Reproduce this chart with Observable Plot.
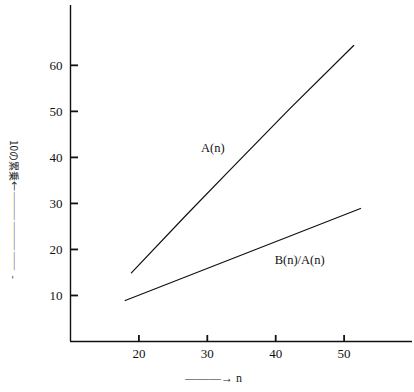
<!DOCTYPE html>
<html><head><meta charset="utf-8">
<script src="https://cdn.jsdelivr.net/npm/d3@7"></script>
<script src="https://cdn.jsdelivr.net/npm/@observablehq/plot@0.6"></script>
<style>
body{margin:0;background:#fff;}
</style>
</head><body>
<div id="chart"></div>
<script>
// Series A(n)
const nA = [18.9, 27, 33.4, 42, 51.4];
const valA = [14.9, 27.6, 37.4, 50.5, 64.3];
// Series B(n)/A(n)
const nB = [18.0, 52.4];
const valB = [8.9, 28.9];
// Axis ticks
const xTicks = [20, 30, 40, 50];
const yTicks = [10, 20, 30, 40, 50, 60];
// Series labels
const labelText = ["A(n)", "B(n)/A(n)"];
const labelN = [30.8, 43.5];
const labelV = [42, 17.6];
const xLabel = "―――→ n";
const yLabel = "10の累乗←――――――――  -";

const A = nA.map((n, i) => ({n, v: valA[i]}));
const B = nB.map((n, i) => ({n, v: valB[i]}));
const labels = labelText.map((t, i) => ({t, n: labelN[i], v: labelV[i]}));
const serif = "Liberation Serif, serif";

const chart = Plot.plot({
  width: 414,
  height: 392,
  marginLeft: 70,
  marginRight: 2,
  marginTop: 5,
  marginBottom: 51,
  style: {fontSize: "13px", color: "#111", background: "#fff"},
  x: {domain: [10, 60]},
  y: {domain: [0, 73]},
  marks: [
    Plot.axisX({ticks: xTicks, tickSize: 0, tickPadding: 7, label: null, fontSize: 13, fontFamily: serif}),
    Plot.axisY({ticks: yTicks, tickSize: 0, tickPadding: 8, label: null, fontSize: 13, fontFamily: serif}),
    Plot.axisX({ticks: xTicks, tickSize: 6, dy: -6, tickFormat: () => "", label: null, stroke: "#111", strokeWidth: 1.8}),
    Plot.axisY({ticks: yTicks, tickSize: 8, dx: 8, tickFormat: () => "", label: null, stroke: "#111", strokeWidth: 1.8}),
    Plot.ruleX([10], {stroke: "#111", strokeWidth: 1.4}),
    Plot.ruleY([0], {stroke: "#111", strokeWidth: 1.4}),
    Plot.line(A, {x: "n", y: "v", stroke: "#111", strokeWidth: 1.2}),
    Plot.line(B, {x: "n", y: "v", stroke: "#111", strokeWidth: 1.2}),
    Plot.text(labels, {x: "n", y: "v", text: "t", fontSize: 12.5, fill: "#111", fontFamily: serif}),
    Plot.text([xLabel], {frameAnchor: "bottom", dy: 40, dx: -28, text: d => d, fontSize: 12, fill: "#222", fontFamily: serif}),
    Plot.text([yLabel], {frameAnchor: "left", textAnchor: "middle", dx: -57, dy: 36, rotate: 90, text: d => d,
      fontFamily: "Noto Sans CJK JP, sans-serif", fontSize: 10, fill: "#222"})
  ]
});
document.getElementById("chart").append(chart);
</script>
</body></html>
